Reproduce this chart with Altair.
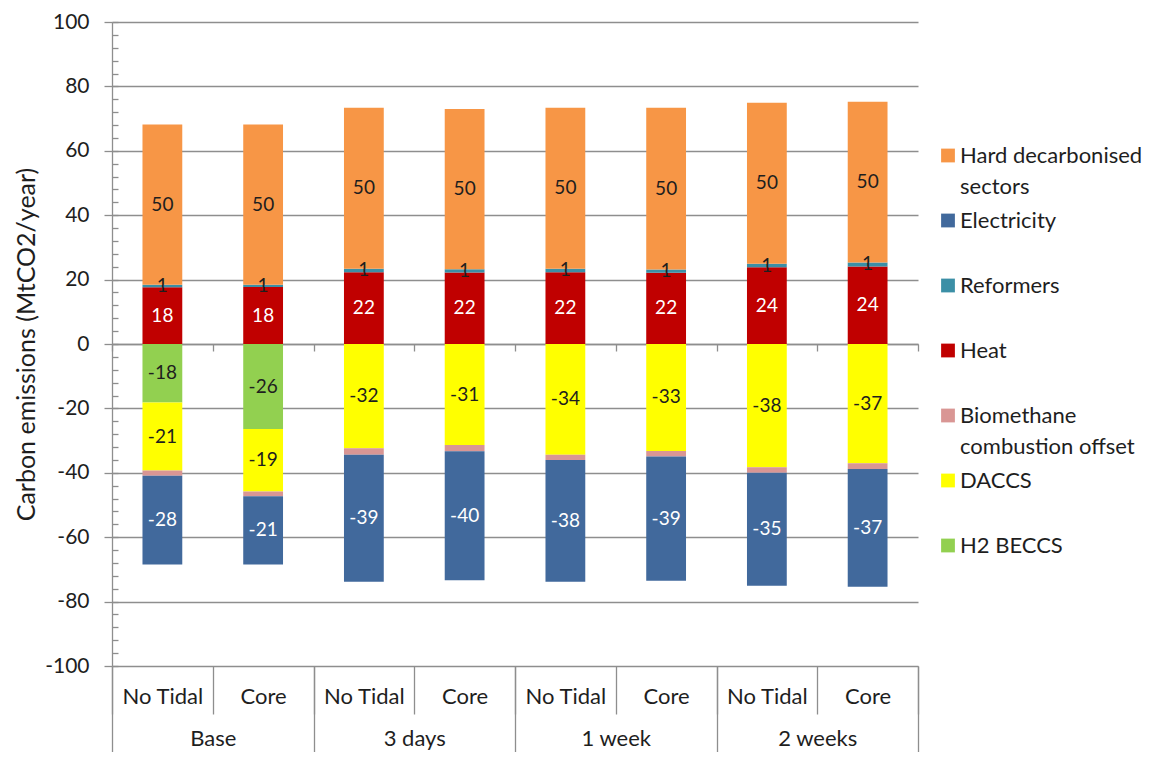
import altair as alt
import pandas as pd

# ---------------- data ----------------
groups = ["Base", "Base", "3 days", "3 days", "1 week", "1 week", "2 weeks", "2 weeks"]
scenarios = ["No Tidal", "Core", "No Tidal", "Core", "No Tidal", "Core", "No Tidal", "Core"]
group_names = ["Base", "3 days", "1 week", "2 weeks"]

# series in stacking order (as in the spreadsheet)
h2_beccs = [-18.2, -26.4, 0, 0, 0, 0, 0, 0]
daccs = [-21.1, -19.4, -32.4, -31.4, -34.4, -33.2, -38.3, -37.0]
biomethane = [-1.6, -1.5, -2.0, -1.9, -1.6, -1.7, -1.7, -1.8]
heat = [17.6, 17.7, 22.3, 22.2, 22.3, 22.1, 23.8, 24.1]
reformers = [0.8, 0.7, 1.1, 1.0, 1.1, 1.0, 1.1, 1.2]
electricity = [-27.6, -21.2, -39.4, -40.1, -37.8, -38.6, -35.1, -36.6]
hard_decarb = [49.8, 49.8, 50.0, 49.8, 50.0, 50.3, 50.0, 49.9]

series_names = ["H2 BECCS", "DACCS", "Biomethane combustion offset", "Heat",
                "Reformers", "Electricity", "Hard decarbonised sectors"]
series_values = [h2_beccs, daccs, biomethane, heat, reformers, electricity, hard_decarb]
labelled = [True, True, False, True, True, True, True]
white_label = ["Heat", "Electricity"]

legend_order = ["Hard decarbonised sectors", "Electricity", "Reformers", "Heat",
                "Biomethane combustion offset", "DACCS", "H2 BECCS"]
legend_text = ["Hard decarbonised\nsectors", "Electricity", "Reformers", "Heat",
               "Biomethane\ncombustion offset", "DACCS", "H2 BECCS"]
legend_colors = ["#F79646", "#41699C", "#3B8FA6", "#C00000", "#D99694", "#FFFF00", "#92D050"]

keys = [f"{g}|{s}" for g, s in zip(groups, scenarios)]

rows = []
for i, k in enumerate(keys):
    for o, (name, vals) in enumerate(zip(series_names, series_values)):
        v = vals[i]
        if v == 0:
            continue
        rows.append({"key": k, "group": groups[i], "scenario": scenarios[i],
                     "series": name, "order": o, "value": v,
                     "show": labelled[o], "light": name in white_label})
df = pd.DataFrame(rows)
leg_df = pd.DataFrame({"series": legend_order, "text": legend_text})
grp_df = pd.DataFrame({"group": group_names})

# ---------------- style ----------------
W, H = 806, 644
FONT = "Lato"
GRID = "#8e8e8e"
TXT = "#1e1e1e"

xscale = alt.Scale(domain=keys, paddingInner=0, paddingOuter=0)
yscale = alt.Scale(domain=[-100, 100], nice=False, zero=False)
cscale = alt.Scale(domain=legend_order, range=legend_colors)

bars = alt.Chart(df).mark_bar(width=alt.RelativeBandSize(0.395)).encode(
    x=alt.X("key:N", scale=xscale, title=None,
            axis=alt.Axis(orient="bottom", labelExpr="split(datum.value, '|')[1]",
                          labelAngle=0, tickBand="extent", tickSize=48, ticks=True,
                          tickColor=GRID, tickWidth=1.3, domain=False, grid=False,
                          labelFont=FONT, labelFontSize=22, labelColor=TXT,
                          labelBaseline="top", labelPadding=-28, labelOverlap=False)),
    y=alt.Y("value:Q", stack="zero", scale=yscale,
            axis=alt.Axis(orient="left", values=list(range(-100, 101, 20)), grid=True,
                          labelExpr="toString(datum.value)",
                          gridColor=GRID, gridWidth=1.3, domain=True, domainColor=GRID,
                          domainWidth=1.3, tickColor=GRID, tickWidth=1.3, tickSize=8,
                          labelFont=FONT, labelFontSize=21, labelColor=TXT, labelPadding=15,
                          title="Carbon emissions (MtCO2/year)", titleFont=FONT,
                          titleFontSize=25, titleFontWeight="normal", titleColor=TXT,
                          titleX=-86, titleY=H / 2, titleAngle=-90, titleAlign="center",
                          titleBaseline="middle")),
    color=alt.Color("series:N", scale=cscale, legend=None),
    order=alt.Order("order:Q"),
)

labels = alt.Chart(df).transform_stack(
    stack="value", groupby=["key"], as_=["v0", "v1"], sort=[alt.SortField("order")]
).transform_calculate(
    mid="(datum.v0 + datum.v1) / 2", lbl="toString(round(datum.value))"
).transform_filter(
    "datum.show"
).mark_text(font=FONT, fontSize=19).encode(
    x=alt.X("key:N", scale=xscale, title=None,
            axis=alt.Axis(orient="bottom", offset=-H / 2, labels=False, ticks=True,
                          tickBand="extent", tickSize=7, tickColor=GRID, tickWidth=1.3,
                          domain=True, domainColor=GRID, domainWidth=1.3, grid=False)),
    y=alt.Y("mid:Q", scale=yscale, title=None,
            axis=alt.Axis(orient="right", offset=-W, values=list(range(-100, 101, 4)),
                          labels=False, domain=False, grid=False, tickSize=6,
                          tickColor=GRID, tickWidth=1.3)),
    text=alt.Text("lbl:N"),
    color=alt.condition("datum.light", alt.value("white"), alt.value(TXT)),
)

group_axis = alt.Chart(grp_df).mark_point(opacity=0).encode(
    x=alt.X("group:N", title=None,
            scale=alt.Scale(domain=group_names, paddingInner=0, paddingOuter=0),
            axis=alt.Axis(orient="bottom", labelAngle=0, tickBand="extent", tickSize=94,
                          tickColor=GRID, tickWidth=1.3, domain=False, grid=False,
                          labelFont=FONT, labelFontSize=22, labelColor=TXT,
                          labelBaseline="top", labelPadding=-32, labelOverlap=False)),
)

leg_y = alt.Y("series:N", title=None, axis=None,
              scale=alt.Scale(type="point", domain=legend_order, range=[101, 556]))

leg_sym = alt.Chart(leg_df).mark_square(size=190, opacity=1).encode(
    x=alt.value(836), y=leg_y, color=alt.Color("series:N", scale=cscale, legend=None)
)
leg_txt = alt.Chart(leg_df).mark_text(
    font=FONT, fontSize=22, align="left", baseline="middle", lineBreak="\n",
    lineHeight=31, color=TXT
).encode(x=alt.value(848), y=leg_y, text="text:N")

chart = alt.layer(bars, labels, group_axis, leg_sym, leg_txt).resolve_scale(
    x="independent", y="independent"
).resolve_axis(x="independent", y="independent").properties(
    width=W, height=H,
    autosize=alt.AutoSizeParams(type="none"),
    padding={"left": 104, "top": 14, "right": 225, "bottom": 86},
).configure_view(stroke=None)

chart.save("out.html", embed_options={"renderer": "svg", "actions": False})
